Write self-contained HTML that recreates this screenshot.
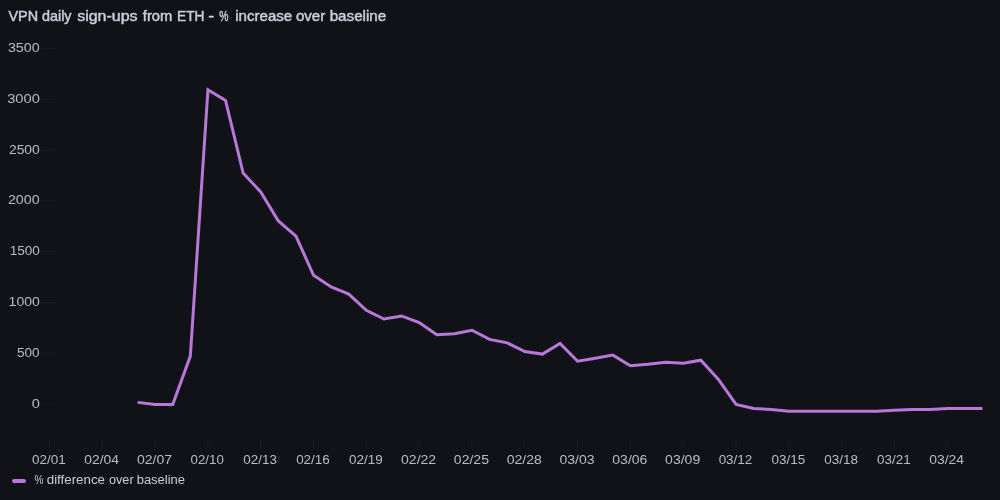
<!DOCTYPE html>
<html lang="en"><head><meta charset="utf-8"><title>VPN daily sign-ups from ETH</title>
<style>
html,body{margin:0;padding:0;background:#111217;}
body{width:1000px;height:500px;overflow:hidden;position:relative;}
svg{position:absolute;left:0;top:0;display:block;}
text{font-family:"Liberation Sans",Arial,sans-serif;fill:#ccccdc;}
.t14{font-size:14px;font-weight:500;stroke:#ccccdc;stroke-width:0.45px;stroke-linejoin:round;}
.t12{font-size:12px;}
.ax{font-size:12px;fill-opacity:0.9;}
</style></head><body>
<svg width="1000" height="500" viewBox="0 0 1000 500">
<rect width="1000" height="500" fill="#111217"/>
<text class="t14"><tspan x="8.50" y="20.50" textLength="29.58" lengthAdjust="spacingAndGlyphs">VPN</tspan> <tspan x="41.99" y="20.50" textLength="29.56" lengthAdjust="spacingAndGlyphs">daily</tspan> <tspan x="77.22" y="20.50" textLength="60.27" lengthAdjust="spacingAndGlyphs">sign-ups</tspan> <tspan x="142.80" y="20.50" textLength="29.49" lengthAdjust="spacingAndGlyphs">from</tspan> <tspan x="177.02" y="20.50" textLength="27.46" lengthAdjust="spacingAndGlyphs">ETH</tspan> <tspan x="208.36" y="20.50" textLength="6.01" lengthAdjust="spacingAndGlyphs">-</tspan> <tspan x="219.13" y="20.50" textLength="9.20" lengthAdjust="spacingAndGlyphs">%</tspan> <tspan x="235.19" y="20.50" textLength="57.03" lengthAdjust="spacingAndGlyphs">increase</tspan> <tspan x="295.96" y="20.50" textLength="29.29" lengthAdjust="spacingAndGlyphs">over</tspan> <tspan x="329.69" y="20.50" textLength="56.52" lengthAdjust="spacingAndGlyphs">baseline</tspan></text>
<g stroke="#1b1c23" stroke-width="1">
<line x1="40.5" x2="55" y1="404.1" y2="404.1"/>
<line x1="40.5" x2="55" y1="353.3" y2="353.3"/>
<line x1="40.5" x2="55" y1="302.5" y2="302.5"/>
<line x1="40.5" x2="55" y1="251.7" y2="251.7"/>
<line x1="40.5" x2="55" y1="200.9" y2="200.9"/>
<line x1="40.5" x2="55" y1="150.1" y2="150.1"/>
<line x1="40.5" x2="55" y1="99.3" y2="99.3"/>
<line x1="40.5" x2="55" y1="48.5" y2="48.5"/>
<line x1="49.4" x2="49.4" y1="440" y2="448"/>
<line x1="102.2" x2="102.2" y1="440" y2="448"/>
<line x1="155.0" x2="155.0" y1="440" y2="448"/>
<line x1="207.8" x2="207.8" y1="440" y2="448"/>
<line x1="260.6" x2="260.6" y1="440" y2="448"/>
<line x1="313.5" x2="313.5" y1="440" y2="448"/>
<line x1="366.3" x2="366.3" y1="440" y2="448"/>
<line x1="419.1" x2="419.1" y1="440" y2="448"/>
<line x1="471.9" x2="471.9" y1="440" y2="448"/>
<line x1="524.7" x2="524.7" y1="440" y2="448"/>
<line x1="577.5" x2="577.5" y1="440" y2="448"/>
<line x1="630.3" x2="630.3" y1="440" y2="448"/>
<line x1="683.1" x2="683.1" y1="440" y2="448"/>
<line x1="736.0" x2="736.0" y1="440" y2="448"/>
<line x1="788.8" x2="788.8" y1="440" y2="448"/>
<line x1="841.6" x2="841.6" y1="440" y2="448"/>
<line x1="894.4" x2="894.4" y1="440" y2="448"/>
<line x1="947.2" x2="947.2" y1="440" y2="448"/>
</g>
<g class="ax">
<text x="31.69" y="407.65" textLength="8.14" lengthAdjust="spacingAndGlyphs">0</text>
<text x="16.93" y="356.84" textLength="22.68" lengthAdjust="spacingAndGlyphs">500</text>
<text x="8.62" y="306.04" textLength="31.21" lengthAdjust="spacingAndGlyphs">1000</text>
<text x="9.65" y="255.23" textLength="30.16" lengthAdjust="spacingAndGlyphs">1500</text>
<text x="7.90" y="204.42" textLength="31.94" lengthAdjust="spacingAndGlyphs">2000</text>
<text x="8.92" y="153.61" textLength="30.90" lengthAdjust="spacingAndGlyphs">2500</text>
<text x="7.19" y="102.81" textLength="32.67" lengthAdjust="spacingAndGlyphs">3000</text>
<text x="7.90" y="52.00" textLength="31.94" lengthAdjust="spacingAndGlyphs">3500</text>
<text x="32.09" y="464.30" textLength="33.66" lengthAdjust="spacingAndGlyphs">02/01</text>
<text x="84.18" y="464.30" textLength="34.81" lengthAdjust="spacingAndGlyphs">02/04</text>
<text x="136.99" y="464.30" textLength="35.11" lengthAdjust="spacingAndGlyphs">02/07</text>
<text x="190.53" y="464.30" textLength="33.37" lengthAdjust="spacingAndGlyphs">02/10</text>
<text x="243.34" y="464.30" textLength="33.66" lengthAdjust="spacingAndGlyphs">02/13</text>
<text x="296.15" y="464.30" textLength="33.66" lengthAdjust="spacingAndGlyphs">02/16</text>
<text x="348.96" y="464.30" textLength="33.66" lengthAdjust="spacingAndGlyphs">02/19</text>
<text x="401.05" y="464.30" textLength="35.11" lengthAdjust="spacingAndGlyphs">02/22</text>
<text x="453.86" y="464.30" textLength="35.11" lengthAdjust="spacingAndGlyphs">02/25</text>
<text x="506.67" y="464.30" textLength="35.11" lengthAdjust="spacingAndGlyphs">02/28</text>
<text x="559.49" y="464.30" textLength="35.11" lengthAdjust="spacingAndGlyphs">03/03</text>
<text x="612.30" y="464.30" textLength="35.11" lengthAdjust="spacingAndGlyphs">03/06</text>
<text x="665.11" y="464.30" textLength="35.11" lengthAdjust="spacingAndGlyphs">03/09</text>
<text x="718.65" y="464.30" textLength="33.66" lengthAdjust="spacingAndGlyphs">03/12</text>
<text x="771.46" y="464.30" textLength="33.66" lengthAdjust="spacingAndGlyphs">03/15</text>
<text x="824.27" y="464.30" textLength="33.66" lengthAdjust="spacingAndGlyphs">03/18</text>
<text x="877.08" y="464.30" textLength="33.66" lengthAdjust="spacingAndGlyphs">03/21</text>
<text x="929.17" y="464.30" textLength="34.81" lengthAdjust="spacingAndGlyphs">03/24</text>
</g>
<polyline fill="none" stroke="#b877d9" stroke-width="3" stroke-linejoin="miter" stroke-miterlimit="10" stroke-linecap="butt" points="137.52,402.38 155.12,404.41 172.73,404.41 190.33,356.12 207.94,89.77 225.54,100.44 243.14,173.13 260.75,191.94 278.35,220.91 295.96,236.16 313.56,275.30 331.16,286.99 348.77,294.11 366.37,310.37 383.98,319.01 401.58,315.96 419.18,322.57 436.79,334.77 454.39,333.75 472.00,330.20 489.60,339.35 507.20,342.90 524.81,351.55 542.41,354.09 560.02,343.41 577.62,361.20 595.22,358.15 612.83,355.10 630.43,365.78 648.04,364.25 665.64,362.22 683.24,363.24 700.85,360.19 718.45,379.50 736.06,404.41 753.66,408.47 771.26,409.49 788.87,411.22 806.47,411.22 824.08,411.22 841.68,411.22 859.28,411.22 876.89,411.22 894.49,410.20 912.10,409.49 929.70,409.49 947.30,408.58 964.91,408.58 982.51,408.58"/>
<rect x="12" y="479" width="14" height="4" rx="2" fill="#b877d9"/>
<text class="t12"><tspan x="34.59" y="483.80" textLength="8.96" lengthAdjust="spacingAndGlyphs">%</tspan> <tspan x="46.74" y="483.80" textLength="58.29" lengthAdjust="spacingAndGlyphs">difference</tspan> <tspan x="108.97" y="483.80" textLength="24.63" lengthAdjust="spacingAndGlyphs">over</tspan> <tspan x="136.69" y="483.80" textLength="48.30" lengthAdjust="spacingAndGlyphs">baseline</tspan></text>
</svg>
</body></html>
